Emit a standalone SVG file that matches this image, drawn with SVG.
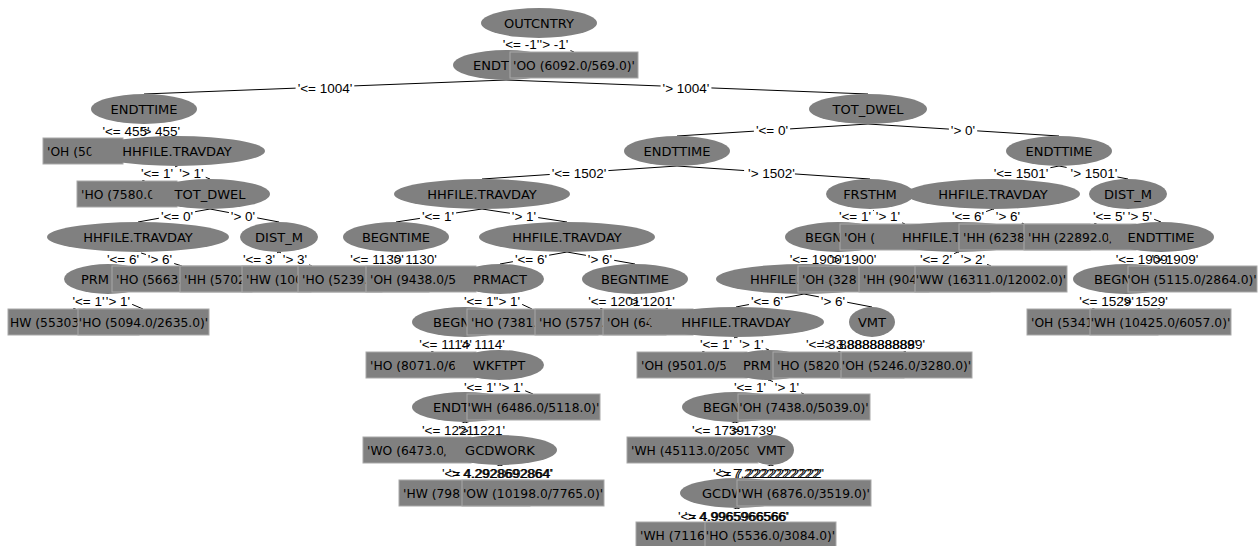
<svg xmlns="http://www.w3.org/2000/svg" width="1258" height="546" viewBox="0 0 1258 546">
<style>
.node ellipse{fill:#808080}
.leaf rect{fill:#808080;stroke:#a8a8a8;stroke-width:1}
text{font-family:"DejaVu Sans",sans-serif;font-size:13px;fill:#000}
.leaf text{font-size:12.3px}
.c{text-anchor:middle}
.e{text-anchor:end}
#connectors line{stroke:#000;stroke-width:1}
#edge-labels rect{fill:#fff}
#edge-labels text{font-family:"Liberation Sans",Arial,sans-serif;font-size:13.5px}
</style>
<rect width="1258" height="546" fill="#fff"/>
<g id="connectors">
<line x1="539" y1="38" x2="506" y2="50"/><line x1="539" y1="38" x2="574" y2="52"/>
<line x1="506" y1="80" x2="144" y2="94"/><line x1="506" y1="80" x2="868" y2="94"/>
<line x1="144" y1="124" x2="108" y2="138"/><line x1="144" y1="124" x2="177" y2="136"/>
<line x1="868" y1="124" x2="677" y2="136"/><line x1="868" y1="124" x2="1059" y2="136"/>
<line x1="177" y1="166" x2="142" y2="181"/><line x1="177" y1="166" x2="210" y2="179"/>
<line x1="677" y1="166" x2="482" y2="179"/><line x1="677" y1="166" x2="870" y2="179"/>
<line x1="1059" y1="166" x2="993" y2="179"/><line x1="1059" y1="166" x2="1128" y2="179"/>
<line x1="210" y1="209" x2="138" y2="222"/><line x1="210" y1="209" x2="279" y2="222"/>
<line x1="482" y1="209" x2="396" y2="222"/><line x1="482" y1="209" x2="567" y2="222"/>
<line x1="870" y1="209" x2="838" y2="222"/><line x1="870" y1="209" x2="905" y2="224"/>
<line x1="993" y1="209" x2="958" y2="222"/><line x1="993" y1="209" x2="1024" y2="224"/>
<line x1="1128" y1="209" x2="1094" y2="224"/><line x1="1128" y1="209" x2="1161" y2="222"/>
<line x1="138" y1="252" x2="108" y2="264"/><line x1="138" y1="252" x2="182" y2="266"/>
<line x1="279" y1="252" x2="245" y2="266"/><line x1="279" y1="252" x2="312" y2="266"/>
<line x1="396" y1="252" x2="363" y2="266"/><line x1="396" y1="252" x2="431" y2="266"/>
<line x1="567" y1="252" x2="500" y2="264"/><line x1="567" y1="252" x2="635" y2="264"/>
<line x1="838" y1="252" x2="804" y2="264"/><line x1="838" y1="252" x2="863" y2="266"/>
<line x1="958" y1="252" x2="924" y2="266"/><line x1="958" y1="252" x2="991" y2="266"/>
<line x1="1161" y1="252" x2="1126" y2="264"/><line x1="1161" y1="252" x2="1192" y2="266"/>
<line x1="108" y1="294" x2="73" y2="309"/><line x1="108" y1="294" x2="143" y2="309"/>
<line x1="500" y1="294" x2="465" y2="307"/><line x1="500" y1="294" x2="532" y2="309"/>
<line x1="635" y1="294" x2="600" y2="309"/><line x1="635" y1="294" x2="668" y2="309"/>
<line x1="804" y1="294" x2="736" y2="307"/><line x1="804" y1="294" x2="872" y2="307"/>
<line x1="1126" y1="294" x2="1092" y2="309"/><line x1="1126" y1="294" x2="1160" y2="309"/>
<line x1="465" y1="337" x2="431" y2="352"/><line x1="465" y1="337" x2="499" y2="350"/>
<line x1="736" y1="337" x2="702" y2="352"/><line x1="736" y1="337" x2="769" y2="350"/>
<line x1="872" y1="337" x2="838" y2="352"/><line x1="872" y1="337" x2="906" y2="352"/>
<line x1="499" y1="380" x2="465" y2="392"/><line x1="499" y1="380" x2="533" y2="394"/>
<line x1="769" y1="380" x2="735" y2="392"/><line x1="769" y1="380" x2="804" y2="394"/>
<line x1="465" y1="422" x2="428" y2="437"/><line x1="465" y1="422" x2="500" y2="435"/>
<line x1="735" y1="422" x2="697" y2="437"/><line x1="735" y1="422" x2="771" y2="435"/>
<line x1="500" y1="465" x2="464" y2="480"/><line x1="500" y1="465" x2="533" y2="480"/>
<line x1="771" y1="465" x2="737" y2="478"/><line x1="771" y1="465" x2="804" y2="480"/>
<line x1="737" y1="508" x2="701" y2="522"/><line x1="737" y1="508" x2="770" y2="522"/>
</g>
<g id="edge-labels">
<rect x="500.5" y="37" width="41" height="14"/><rect x="537.5" y="37" width="33" height="14"/>
<rect x="295.6" y="81" width="58.7" height="14"/><rect x="660.6" y="81" width="50.8" height="14"/>
<rect x="100.4" y="124" width="51.2" height="14"/><rect x="138.9" y="124" width="43.3" height="14"/>
<rect x="753.9" y="123" width="36.2" height="14"/><rect x="948.9" y="123" width="28.3" height="14"/>
<rect x="138.9" y="166" width="36.2" height="14"/><rect x="177.4" y="166" width="28.3" height="14"/>
<rect x="549.7" y="166" width="58.7" height="14"/><rect x="744.1" y="166" width="50.8" height="14"/>
<rect x="991.7" y="166" width="58.7" height="14"/><rect x="1066.6" y="166" width="50.8" height="14"/>
<rect x="158.9" y="209" width="36.2" height="14"/><rect x="228.9" y="209" width="28.3" height="14"/>
<rect x="419.9" y="209" width="36.2" height="14"/><rect x="509.9" y="209" width="28.3" height="14"/>
<rect x="836.9" y="209" width="36.2" height="14"/><rect x="873.9" y="209" width="28.3" height="14"/>
<rect x="949.9" y="209" width="36.2" height="14"/><rect x="993.9" y="209" width="28.3" height="14"/>
<rect x="1090.9" y="209" width="36.2" height="14"/><rect x="1125.9" y="209" width="28.3" height="14"/>
<rect x="104.9" y="252" width="36.2" height="14"/><rect x="145.9" y="252" width="28.3" height="14"/>
<rect x="240.9" y="252" width="36.2" height="14"/><rect x="280.9" y="252" width="28.3" height="14"/>
<rect x="347.7" y="252" width="58.7" height="14"/><rect x="386.6" y="252" width="50.8" height="14"/>
<rect x="512.9" y="252" width="36.2" height="14"/><rect x="585.9" y="252" width="28.3" height="14"/>
<rect x="787.7" y="252" width="58.7" height="14"/><rect x="827.6" y="252" width="50.8" height="14"/>
<rect x="917.9" y="252" width="36.2" height="14"/><rect x="958.9" y="252" width="28.3" height="14"/>
<rect x="1113.7" y="252" width="58.7" height="14"/><rect x="1149.6" y="252" width="50.8" height="14"/>
<rect x="70.4" y="294" width="36.2" height="14"/><rect x="103.9" y="294" width="28.3" height="14"/>
<rect x="461.9" y="294" width="36.2" height="14"/><rect x="493.9" y="294" width="28.3" height="14"/>
<rect x="586.2" y="294" width="58.7" height="14"/><rect x="626.1" y="294" width="50.8" height="14"/>
<rect x="748.9" y="294" width="36.2" height="14"/><rect x="818.9" y="294" width="28.3" height="14"/>
<rect x="1077.2" y="294" width="58.7" height="14"/><rect x="1119.1" y="294" width="50.8" height="14"/>
<rect x="416.2" y="337" width="58.7" height="14"/><rect x="458.1" y="337" width="50.8" height="14"/>
<rect x="697.9" y="337" width="36.2" height="14"/><rect x="737.4" y="337" width="28.3" height="14"/>
<rect x="804" y="337" width="114.9" height="14"/><rect x="820" y="337" width="107" height="14"/>
<rect x="461.9" y="380" width="36.2" height="14"/><rect x="496.9" y="380" width="28.3" height="14"/>
<rect x="731.9" y="380" width="36.2" height="14"/><rect x="772.9" y="380" width="28.3" height="14"/>
<rect x="420" y="423" width="58.7" height="14"/><rect x="456.2" y="423" width="50.8" height="14"/>
<rect x="690" y="423" width="58.7" height="14"/><rect x="727.2" y="423" width="50.8" height="14"/>
<rect x="440" y="466" width="114.9" height="14"/><rect x="447" y="466" width="107" height="14"/>
<rect x="711" y="466" width="114.9" height="14"/><rect x="717" y="466" width="107" height="14"/>
<rect x="676" y="509" width="114.9" height="14"/><rect x="683" y="509" width="107" height="14"/>
<text x="521" y="49" class="c">'&lt;= -1'</text><text x="554" y="49" class="c">'&gt; -1'</text>
<text x="325" y="93" class="c">'&lt;= 1004'</text><text x="686" y="93" class="c">'&gt; 1004'</text>
<text x="126" y="136" class="c">'&lt;= 455'</text><text x="160.5" y="136" class="c">'&gt; 455'</text>
<text x="772" y="135" class="c">'&lt;= 0'</text><text x="963" y="135" class="c">'&gt; 0'</text>
<text x="157" y="178" class="c">'&lt;= 1'</text><text x="191.5" y="178" class="c">'&gt; 1'</text>
<text x="579" y="178" class="c">'&lt;= 1502'</text><text x="771.5" y="178" class="c">'&gt; 1502'</text>
<text x="1021" y="178" class="c">'&lt;= 1501'</text><text x="1094" y="178" class="c">'&gt; 1501'</text>
<text x="177" y="221" class="c">'&lt;= 0'</text><text x="243" y="221" class="c">'&gt; 0'</text>
<text x="438" y="221" class="c">'&lt;= 1'</text><text x="524" y="221" class="c">'&gt; 1'</text>
<text x="855" y="221" class="c">'&lt;= 1'</text><text x="888" y="221" class="c">'&gt; 1'</text>
<text x="968" y="221" class="c">'&lt;= 6'</text><text x="1008" y="221" class="c">'&gt; 6'</text>
<text x="1109" y="221" class="c">'&lt;= 5'</text><text x="1140" y="221" class="c">'&gt; 5'</text>
<text x="123" y="264" class="c">'&lt;= 6'</text><text x="160" y="264" class="c">'&gt; 6'</text>
<text x="259" y="264" class="c">'&lt;= 3'</text><text x="295" y="264" class="c">'&gt; 3'</text>
<text x="377" y="264" class="c">'&lt;= 1130'</text><text x="414" y="264" class="c">'&gt; 1130'</text>
<text x="531" y="264" class="c">'&lt;= 6'</text><text x="600" y="264" class="c">'&gt; 6'</text>
<text x="817" y="264" class="c">'&lt;= 1900'</text><text x="853" y="264" class="c">'&gt; 1900'</text>
<text x="936" y="264" class="c">'&lt;= 2'</text><text x="973" y="264" class="c">'&gt; 2'</text>
<text x="1143" y="264" class="c">'&lt;= 1909'</text><text x="1175" y="264" class="c">'&gt; 1909'</text>
<text x="88.5" y="306" class="c">'&lt;= 1'</text><text x="118" y="306" class="c">'&gt; 1'</text>
<text x="480" y="306" class="c">'&lt;= 1'</text><text x="508" y="306" class="c">'&gt; 1'</text>
<text x="615.5" y="306" class="c">'&lt;= 1201'</text><text x="651.5" y="306" class="c">'&gt; 1201'</text>
<text x="767" y="306" class="c">'&lt;= 6'</text><text x="833" y="306" class="c">'&gt; 6'</text>
<text x="1106.5" y="306" class="c">'&lt;= 1529'</text><text x="1144.5" y="306" class="c">'&gt; 1529'</text>
<text x="445.5" y="349" class="c">'&lt;= 1114'</text><text x="482.5" y="349" class="c">'&gt; 1114'</text>
<text x="716" y="349" class="c">'&lt;= 1'</text><text x="751.5" y="349" class="c">'&gt; 1'</text>
<text x="806" y="349">'&lt;= 3.8888888889'</text><text x="925" y="349" class="e">'&gt; 3.8888888889'</text>
<text x="480" y="392" class="c">'&lt;= 1'</text><text x="511" y="392" class="c">'&gt; 1'</text>
<text x="750" y="392" class="c">'&lt;= 1'</text><text x="787" y="392" class="c">'&gt; 1'</text>
<text x="422" y="435">'&lt;= 1221'</text><text x="505" y="435" class="e">'&gt; 1221'</text>
<text x="692" y="435">'&lt;= 1739'</text><text x="776" y="435" class="e">'&gt; 1739'</text>
<text x="442" y="478">'&lt;= 4.2928692864'</text><text x="552" y="478" class="e">'&gt; 4.2928692864'</text>
<text x="713" y="478">'&lt;= 7.2222222222'</text><text x="822" y="478" class="e">'&gt; 7.2222222222'</text>
<text x="678" y="521">'&lt;= 4.9965966566'</text><text x="788" y="521" class="e">'&gt; 4.9965966566'</text>
</g>
<g id="n1" class="node"><ellipse cx="539" cy="23" rx="58" ry="15"/><text x="539" y="28" class="c">OUTCNTRY</text></g>
<g id="n2" class="node"><ellipse cx="506" cy="65" rx="53" ry="15"/><text x="473" y="70">ENDT</text></g>
<g id="n3" class="leaf"><rect x="510" y="52" width="128" height="26"/><text x="574" y="70" class="c">'OO (6092.0/569.0)'</text></g>
<g id="n4" class="node"><ellipse cx="144" cy="109" rx="53" ry="15"/><text x="144" y="114" class="c">ENDTTIME</text></g>
<g id="n5" class="node"><ellipse cx="868" cy="109" rx="59" ry="15"/><text x="868" y="114" class="c">TOT_DWEL</text></g>
<g id="n6" class="leaf"><rect x="43" y="138" width="80" height="26"/><text x="47" y="156">'OH (50</text></g>
<g id="n7" class="node"><ellipse cx="177" cy="151" rx="88" ry="15"/><text x="177" y="156" class="c">HHFILE.TRAVDAY</text></g>
<g id="n8" class="node"><ellipse cx="677" cy="151" rx="53" ry="15"/><text x="677" y="156" class="c">ENDTTIME</text></g>
<g id="n9" class="node"><ellipse cx="1059" cy="151" rx="53" ry="15"/><text x="1059" y="156" class="c">ENDTTIME</text></g>
<g id="n10" class="leaf"><rect x="77" y="181" width="100" height="26"/><text x="81" y="199">'HO (7580.0</text></g>
<g id="n11" class="node"><ellipse cx="210" cy="194" rx="60" ry="15"/><text x="210" y="199" class="c">TOT_DWEL</text></g>
<g id="n12" class="node"><ellipse cx="482" cy="194" rx="88" ry="15"/><text x="482" y="199" class="c">HHFILE.TRAVDAY</text></g>
<g id="n13" class="node"><ellipse cx="870" cy="194" rx="44" ry="15"/><text x="870" y="199" class="c">FRSTHM</text></g>
<g id="n14" class="node"><ellipse cx="993" cy="194" rx="87" ry="15"/><text x="993" y="199" class="c">HHFILE.TRAVDAY</text></g>
<g id="n15" class="node"><ellipse cx="1128" cy="194" rx="39" ry="15"/><text x="1128" y="199" class="c">DIST_M</text></g>
<g id="n16" class="node"><ellipse cx="138" cy="237" rx="91" ry="15"/><text x="138" y="242" class="c">HHFILE.TRAVDAY</text></g>
<g id="n17" class="node"><ellipse cx="279" cy="237" rx="39" ry="15"/><text x="279" y="242" class="c">DIST_M</text></g>
<g id="n18" class="node"><ellipse cx="396" cy="237" rx="53" ry="15"/><text x="396" y="242" class="c">BEGNTIME</text></g>
<g id="n19" class="node"><ellipse cx="567" cy="237" rx="88" ry="15"/><text x="567" y="242" class="c">HHFILE.TRAVDAY</text></g>
<g id="n20" class="node"><ellipse cx="838" cy="237" rx="53" ry="15"/><text x="805" y="242">BEGN</text></g>
<g id="n21" class="leaf"><rect x="840" y="224" width="90" height="26"/><text x="844" y="242">'OH (</text></g>
<g id="n22" class="node"><ellipse cx="958" cy="237" rx="82" ry="15"/><text x="902" y="242">HHFILE.T</text></g>
<g id="n23" class="leaf"><rect x="959" y="224" width="131" height="26"/><text x="963" y="242">'HH (6238</text></g>
<g id="n24" class="leaf"><rect x="1024" y="224" width="112" height="26"/><text x="1028" y="242">'HH (22892.0/</text></g>
<g id="n25" class="node"><ellipse cx="1161" cy="237" rx="53" ry="15"/><text x="1161" y="242" class="c">ENDTTIME</text></g>
<g id="n26" class="node"><ellipse cx="108" cy="279" rx="44" ry="15"/><text x="81" y="284">PRM</text></g>
<g id="n27" class="leaf"><rect x="112" y="266" width="140" height="26"/><text x="116" y="284">'HO (5663.</text></g>
<g id="n28" class="leaf"><rect x="180" y="266" width="131" height="26"/><text x="184" y="284">'HH (5702</text></g>
<g id="n29" class="leaf"><rect x="242" y="266" width="140" height="26"/><text x="246" y="284">'HW (100</text></g>
<g id="n30" class="leaf"><rect x="298" y="266" width="131" height="26"/><text x="302" y="284">'HO (5239.</text></g>
<g id="n31" class="leaf"><rect x="366" y="266" width="110" height="26"/><text x="370" y="284">'OH (9438.0/5</text></g>
<g id="n32" class="node"><ellipse cx="500" cy="279" rx="44" ry="15"/><text x="500" y="284" class="c">PRMACT</text></g>
<g id="n33" class="node"><ellipse cx="635" cy="279" rx="53" ry="15"/><text x="635" y="284" class="c">BEGNTIME</text></g>
<g id="n34" class="node"><ellipse cx="804" cy="279" rx="88" ry="15"/><text x="750" y="284">HHFILE.</text></g>
<g id="n35" class="leaf"><rect x="798" y="266" width="131" height="26"/><text x="802" y="284">'OH (328</text></g>
<g id="n36" class="leaf"><rect x="859" y="266" width="131" height="26"/><text x="863" y="284">'HH (904</text></g>
<g id="n37" class="leaf"><rect x="915" y="266" width="152" height="26"/><text x="991" y="284" class="c">'WW (16311.0/12002.0)'</text></g>
<g id="n38" class="node"><ellipse cx="1126" cy="279" rx="53" ry="15"/><text x="1094" y="284">BEGN</text></g>
<g id="n39" class="leaf"><rect x="1128" y="266" width="129" height="26"/><text x="1192" y="284" class="c">'OH (5115.0/2864.0)'</text></g>
<g id="n40" class="leaf"><rect x="8" y="309" width="131" height="26"/><text x="10" y="327">HW (55303</text></g>
<g id="n41" class="leaf"><rect x="78" y="309" width="131" height="26"/><text x="143.5" y="327" class="c">'HO (5094.0/2635.0)'</text></g>
<g id="n42" class="node"><ellipse cx="465" cy="322" rx="53" ry="15"/><text x="433" y="327">BEGN</text></g>
<g id="n43" class="leaf"><rect x="467" y="309" width="131" height="26"/><text x="471" y="327">'HO (7381.</text></g>
<g id="n44" class="leaf"><rect x="535" y="309" width="131" height="26"/><text x="539" y="327">'HO (5757.</text></g>
<g id="n45" class="leaf"><rect x="603" y="309" width="90" height="26"/><text x="607" y="327">'OH (64</text></g>
<g id="n46" class="node"><ellipse cx="736" cy="322" rx="88" ry="15"/><text x="736" y="327" class="c">HHFILE.TRAVDAY</text></g>
<g id="n47" class="node"><ellipse cx="872" cy="322" rx="23" ry="15"/><text x="872" y="327" class="c">VMT</text></g>
<g id="n48" class="leaf"><rect x="1027" y="309" width="131" height="26"/><text x="1031" y="327">'OH (5341</text></g>
<g id="n49" class="leaf"><rect x="1090" y="309" width="141" height="26"/><text x="1160.5" y="327" class="c">'WH (10425.0/6057.0)'</text></g>
<g id="n50" class="leaf"><rect x="366" y="352" width="110" height="26"/><text x="370" y="370">'HO (8071.0/6</text></g>
<g id="n51" class="node"><ellipse cx="499" cy="365" rx="45" ry="15"/><text x="499" y="370" class="c">WKFTPT</text></g>
<g id="n52" class="leaf"><rect x="637" y="352" width="110" height="26"/><text x="641" y="370">'OH (9501.0/5</text></g>
<g id="n53" class="node"><ellipse cx="769" cy="365" rx="44" ry="15"/><text x="743" y="370">PRM</text></g>
<g id="n54" class="leaf"><rect x="773" y="352" width="131" height="26"/><text x="777" y="370">'HO (5820.</text></g>
<g id="n55" class="leaf"><rect x="841" y="352" width="131" height="26"/><text x="906.5" y="370" class="c">'OH (5246.0/3280.0)'</text></g>
<g id="n56" class="node"><ellipse cx="465" cy="407" rx="53" ry="15"/><text x="433" y="412">ENDT</text></g>
<g id="n57" class="leaf"><rect x="467" y="394" width="133" height="26"/><text x="533.5" y="412" class="c">'WH (6486.0/5118.0)'</text></g>
<g id="n58" class="node"><ellipse cx="735" cy="407" rx="53" ry="15"/><text x="703" y="412">BEGN</text></g>
<g id="n59" class="leaf"><rect x="738" y="394" width="132" height="26"/><text x="804" y="412" class="c">'OH (7438.0/5039.0)'</text></g>
<g id="n60" class="leaf"><rect x="363" y="437" width="108" height="26"/><text x="367" y="455">'WO (6473.0/</text></g>
<g id="n61" class="node"><ellipse cx="500" cy="450" rx="57" ry="15"/><text x="500" y="455" class="c">GCDWORK</text></g>
<g id="n62" class="leaf"><rect x="627" y="437" width="131" height="26"/><text x="631" y="455">'WH (45113.0/2050</text></g>
<g id="n63" class="node"><ellipse cx="771" cy="450" rx="23" ry="15"/><text x="771" y="455" class="c">VMT</text></g>
<g id="n64" class="leaf"><rect x="399" y="480" width="131" height="26"/><text x="403" y="498">'HW (798</text></g>
<g id="n65" class="leaf"><rect x="462" y="480" width="142" height="26"/><text x="533" y="498" class="c">'OW (10198.0/7765.0)'</text></g>
<g id="n66" class="node"><ellipse cx="737" cy="493" rx="57" ry="15"/><text x="702" y="498">GCDW</text></g>
<g id="n67" class="leaf"><rect x="737" y="480" width="134" height="26"/><text x="804" y="498" class="c">'WH (6876.0/3519.0)'</text></g>
<g id="n68" class="leaf"><rect x="636" y="522" width="131" height="26"/><text x="640" y="540">'WH (7116.</text></g>
<g id="n69" class="leaf"><rect x="705" y="522" width="131" height="26"/><text x="770.5" y="540" class="c">'HO (5536.0/3084.0)'</text></g>
</svg>
